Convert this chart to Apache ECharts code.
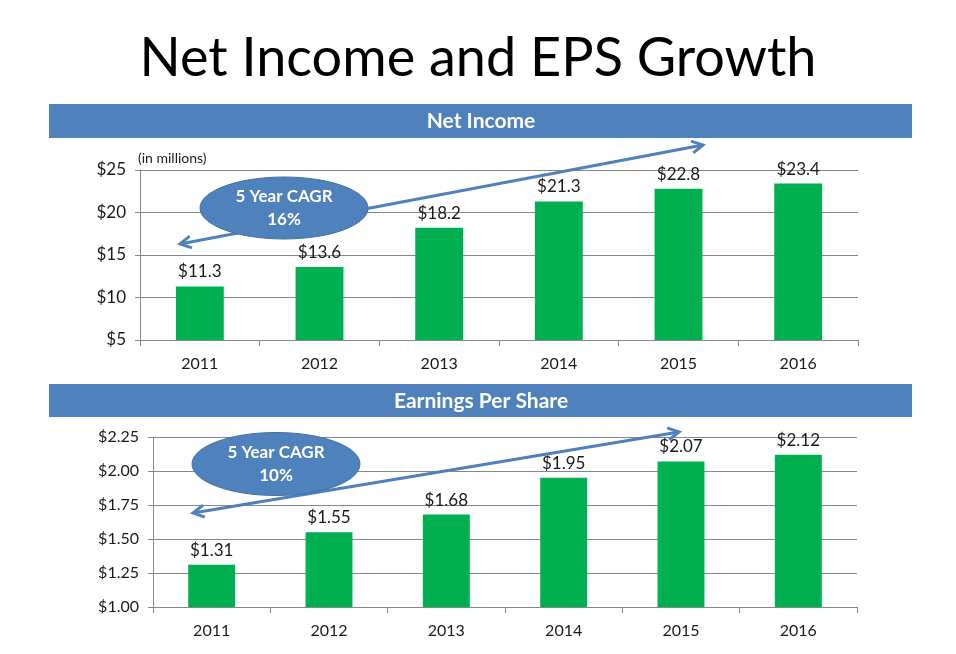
<!DOCTYPE html>
<html>
<head>
<meta charset="utf-8">
<script src="https://cdn.jsdelivr.net/npm/echarts@6/dist/echarts.min.js"></script>
<style>
html,body{margin:0;padding:0;background:#fff;}
#chart{width:956px;height:654px;}
</style>
</head>
<body>
<div id="chart"></div>
<script>
const categories = ['2011', '2012', '2013', '2014', '2015', '2016'];
const netIncome = [11.3, 13.6, 18.2, 21.3, 22.8, 23.4];
const eps = [1.31, 1.55, 1.68, 1.95, 2.07, 2.12];
const titleText = 'Net Income and EPS Growth';
const panel1Title = 'Net Income';
const panel2Title = 'Earnings Per Share';
const unitNote = '(in millions)';
const cagr1 = ['5 Year CAGR', '16%'];
const cagr2 = ['5 Year CAGR', '10%'];

const FONT = 'Lato, "Open Sans", sans-serif';
const BLUE = '#4F81BD';
const GREEN = '#00B050';
const TXT = '#1a1a1a';
const AX = '#878787';

function arrowGraphic(x1, y1, x2, y2) {
  const dx = x2 - x1, dy = y2 - y1;
  const len = Math.sqrt(dx*dx + dy*dy);
  const ux = dx/len, uy = dy/len;
  const nx = -uy, ny = ux;
  const L = 11, W = 6;
  const head = (px, py, sx, sy) => ({
    type: 'polyline', z: 90,
    shape: { points: [[px - L*sx + W*nx, py - L*sy + W*ny], [px, py], [px - L*sx - W*nx, py - L*sy - W*ny]] },
    style: { stroke: BLUE, lineWidth: 3, fill: null, lineJoin: 'miter' }
  });
  return [
    { type: 'line', z: 90, shape: { x1, y1, x2, y2 }, style: { stroke: BLUE, lineWidth: 3 } },
    head(x2, y2, ux, uy),
    head(x1, y1, -ux, -uy)
  ];
}

function ellipseGraphic(cx, cy, rx, ry, lines) {
  return [
    { type: 'ellipse', z: 100, shape: { cx, cy, rx, ry }, style: { fill: BLUE, stroke: '#41719C', lineWidth: 1 } },
    { type: 'text', z: 101, x: cx, y: cy - 11.5, style: { text: lines[0], fill: '#fff', font: 'bold 17px ' + FONT, textAlign: 'center', textVerticalAlign: 'middle' } },
    { type: 'text', z: 101, x: cx, y: cy + 12, style: { text: lines[1], fill: '#fff', font: 'bold 17px ' + FONT, textAlign: 'center', textVerticalAlign: 'middle' } }
  ];
}

const chart = echarts.init(document.getElementById('chart'), null, { renderer: 'canvas' });

const xAxisBase = (gridIndex) => ({
  type: 'category', gridIndex, data: categories,
  axisLine: { show: true, lineStyle: { color: AX, width: 1 } },
  axisTick: { show: true, length: 6, lineStyle: { color: AX } },
  axisLabel: { color: TXT, fontSize: 16, fontFamily: FONT, margin: 16 },
  splitLine: { show: false }
});

const option = {
  animation: false,
  backgroundColor: '#fff',
  title: {
    text: titleText, left: 'center', top: 27,
    textStyle: { fontFamily: FONT, fontSize: 54, fontWeight: 'normal', color: '#000' }
  },
  grid: [
    { left: 140, right: 98, top: 170, height: 170 },
    { left: 153, right: 99, top: 437, height: 170 }
  ],
  xAxis: [xAxisBase(0), xAxisBase(1)],
  yAxis: [
    {
      type: 'value', gridIndex: 0, min: 5, max: 25, interval: 5,
      axisLine: { show: true, lineStyle: { color: AX } },
      axisTick: { show: true, length: 5, lineStyle: { color: AX } },
      splitLine: { show: true, lineStyle: { color: AX, width: 1 } },
      axisLabel: { color: TXT, fontSize: 17, fontFamily: FONT, margin: 14, formatter: v => '$' + v }
    },
    {
      type: 'value', gridIndex: 1, min: 1, max: 2.25, interval: 0.25,
      axisLine: { show: true, lineStyle: { color: AX } },
      axisTick: { show: true, length: 5, lineStyle: { color: AX } },
      splitLine: { show: true, lineStyle: { color: AX, width: 1 } },
      axisLabel: { color: TXT, fontSize: 16, fontFamily: FONT, margin: 14, formatter: v => '$' + v.toFixed(2) }
    }
  ],
  series: [
    {
      type: 'bar', xAxisIndex: 0, yAxisIndex: 0, data: netIncome,
      barWidth: '40%', itemStyle: { color: GREEN },
      label: { show: true, position: 'top', distance: 6, color: TXT, fontSize: 17, fontFamily: FONT, formatter: p => '$' + p.value.toFixed(1) }
    },
    {
      type: 'bar', xAxisIndex: 1, yAxisIndex: 1, data: eps,
      barWidth: '40%', itemStyle: { color: GREEN },
      label: { show: true, position: 'top', distance: 6, color: TXT, fontSize: 17, fontFamily: FONT, formatter: p => '$' + p.value.toFixed(2) }
    }
  ],
  graphic: [
    { type: 'rect', z: 50, shape: { x: 49, y: 104, width: 863, height: 34 }, style: { fill: BLUE } },
    { type: 'text', z: 51, x: 481, y: 121, style: { text: panel1Title, fill: '#fff', font: 'bold 21px ' + FONT, textAlign: 'center', textVerticalAlign: 'middle' } },
    { type: 'rect', z: 50, shape: { x: 49, y: 384, width: 863, height: 33 }, style: { fill: BLUE } },
    { type: 'text', z: 51, x: 481, y: 401, style: { text: panel2Title, fill: '#fff', font: 'bold 21px ' + FONT, textAlign: 'center', textVerticalAlign: 'middle' } },
    { type: 'text', z: 51, x: 138, y: 158, style: { text: unitNote, fill: TXT, font: '14px ' + FONT, textAlign: 'left', textVerticalAlign: 'middle' } }
  ]
    .concat(arrowGraphic(180, 244, 703, 145))
    .concat(ellipseGraphic(284, 208, 84, 31, cagr1))
    .concat(arrowGraphic(193, 513, 679, 432))
    .concat(ellipseGraphic(276, 464, 84, 31.5, cagr2))
};

chart.setOption(option);
</script>
</body>
</html>
